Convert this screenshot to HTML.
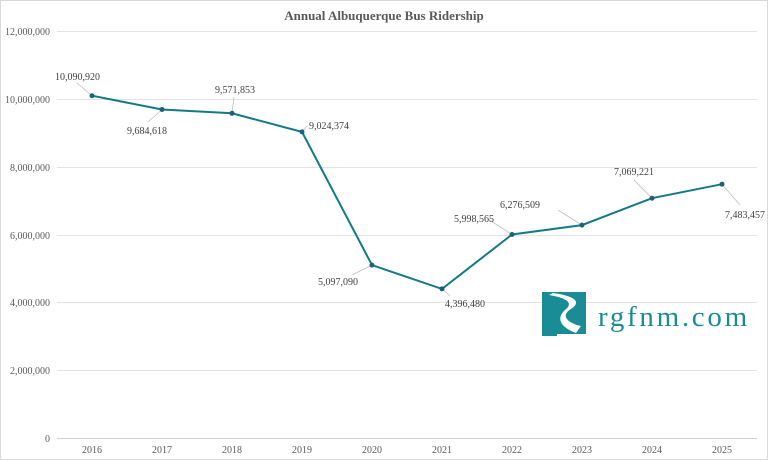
<!DOCTYPE html>
<html><head><style>body{margin:0;background:#fff}svg{display:block}</style></head><body>
<svg width="768" height="460" xmlns="http://www.w3.org/2000/svg" font-family="Liberation Serif, serif">
<rect x="0.5" y="0.5" width="767" height="459" fill="#fff" stroke="#d9d9d9"/>
<text x="384" y="20" text-anchor="middle" font-size="13" font-weight="bold" fill="#595959">Annual Albuquerque Bus Ridership</text>
<g stroke="#e3e3e3" stroke-width="1">
<line x1="57" x2="757" y1="31.5" y2="31.5"/><line x1="57" x2="757" y1="99.5" y2="99.5"/><line x1="57" x2="757" y1="167.5" y2="167.5"/><line x1="57" x2="757" y1="235.5" y2="235.5"/><line x1="57" x2="757" y1="302.5" y2="302.5"/><line x1="57" x2="757" y1="370.5" y2="370.5"/>
</g>
<line x1="57" x2="757" y1="438.5" y2="438.5" stroke="#d0d0d0"/>
<g font-size="10" fill="#595959" text-anchor="end">
<text x="50" y="35">12,000,000</text><text x="50" y="103">10,000,000</text><text x="50" y="171">8,000,000</text><text x="50" y="239">6,000,000</text><text x="50" y="306">4,000,000</text><text x="50" y="374">2,000,000</text><text x="50" y="442">0</text>
</g>
<g font-size="10" fill="#595959" text-anchor="middle">
<text x="92" y="453">2016</text><text x="162" y="453">2017</text><text x="232" y="453">2018</text><text x="302" y="453">2019</text><text x="372" y="453">2020</text><text x="442" y="453">2021</text><text x="512" y="453">2022</text><text x="582" y="453">2023</text><text x="652" y="453">2024</text><text x="722" y="453">2025</text>
</g>
<g stroke="#bfbfbf" stroke-width="0.8" fill="none">
<line x1="92" y1="95.7" x2="77" y2="83"/><line x1="162" y1="109.5" x2="148" y2="122"/><line x1="232" y1="113.3" x2="234" y2="97"/><line x1="302" y1="131.9" x2="307" y2="126"/><line x1="372" y1="265.1" x2="352" y2="275"/><line x1="442" y1="288.9" x2="450" y2="296"/><line x1="512" y1="234.5" x2="488" y2="219"/><line x1="582" y1="225.1" x2="558" y2="210"/><line x1="652" y1="198.2" x2="634" y2="180"/><line x1="722" y1="184.2" x2="740" y2="205"/>
</g>
<polyline fill="none" stroke="#137a87" stroke-width="2" points="92,95.7 162,109.5 232,113.3 302,131.9 372,265.1 442,288.9 512,234.5 582,225.1 652,198.2 722,184.2"/>
<g fill="#1f5f7a">
<circle cx="92" cy="95.7" r="2.5"/><circle cx="162" cy="109.5" r="2.5"/><circle cx="232" cy="113.3" r="2.5"/><circle cx="302" cy="131.9" r="2.5"/><circle cx="372" cy="265.1" r="2.5"/><circle cx="442" cy="288.9" r="2.5"/><circle cx="512" cy="234.5" r="2.5"/><circle cx="582" cy="225.1" r="2.5"/><circle cx="652" cy="198.2" r="2.5"/><circle cx="722" cy="184.2" r="2.5"/>
</g>
<g font-size="10" fill="#404040">
<text x="55" y="80">10,090,920</text><text x="127" y="134">9,684,618</text><text x="215" y="93">9,571,853</text><text x="309" y="129">9,024,374</text><text x="318" y="285">5,097,090</text><text x="445" y="307">4,396,480</text><text x="454" y="222">5,998,565</text><text x="500" y="208">6,276,509</text><text x="614" y="175">7,069,221</text><text x="725" y="218">7,483,457</text>
</g>
<path d="M542,292 L586,292 L586,334 L557,334 L557,336 L542,336 Z" fill="#1a8c96"/>
<path d="M553,293 C575,296 582,302 571,309 C562,314 564,322 581,326 L576,333 C560,327 556,318 565,310 C574,303 567,298 549,295 Z" fill="#fff"/>
<text x="598" y="326" font-size="29" fill="#1a8c96" letter-spacing="2.7">rgfnm.com</text>
</svg>
</body></html>
